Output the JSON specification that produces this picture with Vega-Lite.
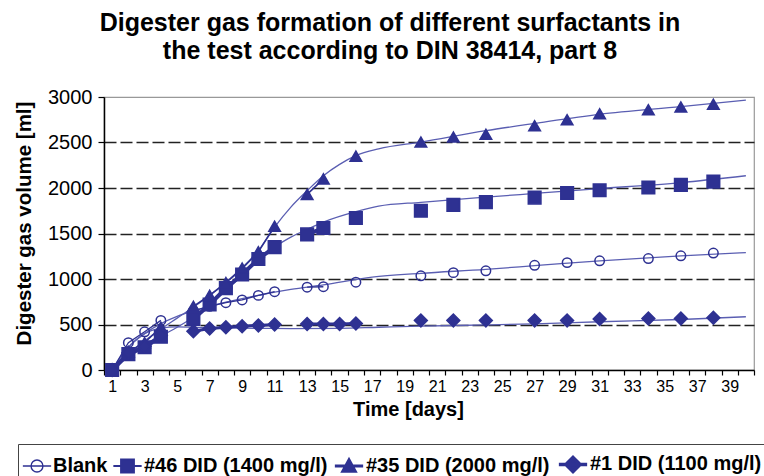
{
  "$schema": "https://vega.github.io/schema/vega-lite/v6.json",
  "autosize": {"type": "none"},
  "width": 650,
  "height": 273,
  "padding": {"left": 104, "top": 97, "right": 10, "bottom": 106},
  "background": "white",
  "title": {
    "text": ["Digester gas formation of different surfactants in", "the test according to DIN 38414, part 8"],
    "font": "Liberation Sans",
    "fontSize": 25,
    "fontWeight": "bold",
    "color": "black",
    "anchor": "middle",
    "dx": -39,
    "offset": -2,
    "lineHeight": 28,
    "baseline": "bottom"
  },
  "config": {
    "view": {"stroke": "#999999", "strokeWidth": 1.2},
    "font": "Liberation Sans",
    "legend": {
      "title": null,
      "orient": "none",
      "direction": "horizontal",
      "legendX": -86,
      "legendY": 347,
      "padding": 4,
      "fillColor": "white",
      "strokeColor": "#444444",
      "symbolSize": 800,
      "labelFont": "Liberation Sans",
      "labelFontSize": 20,
      "labelFontWeight": "bold",
      "labelColor": "black",
      "labelOffset": 1,
      "columnPadding": 1,
      "labelLimit": 400
    }
  },
  "datasets": {
    "pts": [
      {"s": "Blank", "day": 1, "v": 0, "seg": "a"},
      {"s": "Blank", "day": 2, "v": 300, "seg": "a"},
      {"s": "Blank", "day": 3, "v": 420, "seg": "a"},
      {"s": "Blank", "day": 4, "v": 545, "seg": "a"},
      {"s": "Blank", "day": 6, "v": 650, "seg": "b"},
      {"s": "Blank", "day": 7, "v": 700, "seg": "b"},
      {"s": "Blank", "day": 8, "v": 740, "seg": "b"},
      {"s": "Blank", "day": 9, "v": 770, "seg": "b"},
      {"s": "Blank", "day": 10, "v": 820, "seg": "b"},
      {"s": "Blank", "day": 11, "v": 860, "seg": "b"},
      {"s": "Blank", "day": 13, "v": 910, "seg": "c"},
      {"s": "Blank", "day": 14, "v": 915, "seg": "c"},
      {"s": "Blank", "day": 16, "v": 965, "seg": "d"},
      {"s": "Blank", "day": 20, "v": 1035, "seg": "e"},
      {"s": "Blank", "day": 22, "v": 1070, "seg": "f"},
      {"s": "Blank", "day": 24, "v": 1090, "seg": "g"},
      {"s": "Blank", "day": 27, "v": 1150, "seg": "h"},
      {"s": "Blank", "day": 29, "v": 1180, "seg": "i"},
      {"s": "Blank", "day": 31, "v": 1200, "seg": "j"},
      {"s": "Blank", "day": 34, "v": 1225, "seg": "k"},
      {"s": "Blank", "day": 36, "v": 1255, "seg": "l"},
      {"s": "Blank", "day": 38, "v": 1285, "seg": "m"},

      {"s": "#46 DID (1400 mg/l)", "day": 1, "v": 0, "seg": "a"},
      {"s": "#46 DID (1400 mg/l)", "day": 2, "v": 175, "seg": "a"},
      {"s": "#46 DID (1400 mg/l)", "day": 3, "v": 250, "seg": "a"},
      {"s": "#46 DID (1400 mg/l)", "day": 4, "v": 365, "seg": "a"},
      {"s": "#46 DID (1400 mg/l)", "day": 6, "v": 560, "seg": "b"},
      {"s": "#46 DID (1400 mg/l)", "day": 7, "v": 720, "seg": "b"},
      {"s": "#46 DID (1400 mg/l)", "day": 8, "v": 900, "seg": "b"},
      {"s": "#46 DID (1400 mg/l)", "day": 9, "v": 1050, "seg": "b"},
      {"s": "#46 DID (1400 mg/l)", "day": 10, "v": 1220, "seg": "b"},
      {"s": "#46 DID (1400 mg/l)", "day": 11, "v": 1350, "seg": "b"},
      {"s": "#46 DID (1400 mg/l)", "day": 13, "v": 1490, "seg": "c"},
      {"s": "#46 DID (1400 mg/l)", "day": 14, "v": 1560, "seg": "c"},
      {"s": "#46 DID (1400 mg/l)", "day": 16, "v": 1670, "seg": "d"},
      {"s": "#46 DID (1400 mg/l)", "day": 20, "v": 1750, "seg": "e"},
      {"s": "#46 DID (1400 mg/l)", "day": 22, "v": 1815, "seg": "f"},
      {"s": "#46 DID (1400 mg/l)", "day": 24, "v": 1845, "seg": "g"},
      {"s": "#46 DID (1400 mg/l)", "day": 27, "v": 1895, "seg": "h"},
      {"s": "#46 DID (1400 mg/l)", "day": 29, "v": 1945, "seg": "i"},
      {"s": "#46 DID (1400 mg/l)", "day": 31, "v": 1975, "seg": "j"},
      {"s": "#46 DID (1400 mg/l)", "day": 34, "v": 2005, "seg": "k"},
      {"s": "#46 DID (1400 mg/l)", "day": 36, "v": 2035, "seg": "l"},
      {"s": "#46 DID (1400 mg/l)", "day": 38, "v": 2070, "seg": "m"},

      {"s": "#35 DID (2000 mg/l)", "day": 1, "v": 0, "seg": "a"},
      {"s": "#35 DID (2000 mg/l)", "day": 2, "v": 200, "seg": "a"},
      {"s": "#35 DID (2000 mg/l)", "day": 3, "v": 300, "seg": "a"},
      {"s": "#35 DID (2000 mg/l)", "day": 4, "v": 470, "seg": "a"},
      {"s": "#35 DID (2000 mg/l)", "day": 6, "v": 700, "seg": "b"},
      {"s": "#35 DID (2000 mg/l)", "day": 7, "v": 820, "seg": "b"},
      {"s": "#35 DID (2000 mg/l)", "day": 8, "v": 960, "seg": "b"},
      {"s": "#35 DID (2000 mg/l)", "day": 9, "v": 1120, "seg": "b"},
      {"s": "#35 DID (2000 mg/l)", "day": 10, "v": 1300, "seg": "b"},
      {"s": "#35 DID (2000 mg/l)", "day": 11, "v": 1580, "seg": "b"},
      {"s": "#35 DID (2000 mg/l)", "day": 13, "v": 1930, "seg": "c"},
      {"s": "#35 DID (2000 mg/l)", "day": 14, "v": 2100, "seg": "c"},
      {"s": "#35 DID (2000 mg/l)", "day": 16, "v": 2350, "seg": "d"},
      {"s": "#35 DID (2000 mg/l)", "day": 20, "v": 2505, "seg": "e"},
      {"s": "#35 DID (2000 mg/l)", "day": 22, "v": 2560, "seg": "f"},
      {"s": "#35 DID (2000 mg/l)", "day": 24, "v": 2590, "seg": "g"},
      {"s": "#35 DID (2000 mg/l)", "day": 27, "v": 2685, "seg": "h"},
      {"s": "#35 DID (2000 mg/l)", "day": 29, "v": 2750, "seg": "i"},
      {"s": "#35 DID (2000 mg/l)", "day": 31, "v": 2815, "seg": "j"},
      {"s": "#35 DID (2000 mg/l)", "day": 34, "v": 2860, "seg": "k"},
      {"s": "#35 DID (2000 mg/l)", "day": 36, "v": 2890, "seg": "l"},
      {"s": "#35 DID (2000 mg/l)", "day": 38, "v": 2920, "seg": "m"},

      {"s": "#1 DID (1100 mg/l)", "day": 1, "v": 0, "seg": "a"},
      {"s": "#1 DID (1100 mg/l)", "day": 2, "v": 190, "seg": "a"},
      {"s": "#1 DID (1100 mg/l)", "day": 3, "v": 260, "seg": "a"},
      {"s": "#1 DID (1100 mg/l)", "day": 4, "v": 380, "seg": "a"},
      {"s": "#1 DID (1100 mg/l)", "day": 6, "v": 425, "seg": "b"},
      {"s": "#1 DID (1100 mg/l)", "day": 7, "v": 455, "seg": "b"},
      {"s": "#1 DID (1100 mg/l)", "day": 8, "v": 470, "seg": "b"},
      {"s": "#1 DID (1100 mg/l)", "day": 9, "v": 480, "seg": "b"},
      {"s": "#1 DID (1100 mg/l)", "day": 10, "v": 490, "seg": "b"},
      {"s": "#1 DID (1100 mg/l)", "day": 11, "v": 500, "seg": "b"},
      {"s": "#1 DID (1100 mg/l)", "day": 13, "v": 505, "seg": "c"},
      {"s": "#1 DID (1100 mg/l)", "day": 14, "v": 505, "seg": "c"},
      {"s": "#1 DID (1100 mg/l)", "day": 15, "v": 505, "seg": "c"},
      {"s": "#1 DID (1100 mg/l)", "day": 16, "v": 510, "seg": "c"},
      {"s": "#1 DID (1100 mg/l)", "day": 20, "v": 545, "seg": "e"},
      {"s": "#1 DID (1100 mg/l)", "day": 22, "v": 545, "seg": "f"},
      {"s": "#1 DID (1100 mg/l)", "day": 24, "v": 545, "seg": "g"},
      {"s": "#1 DID (1100 mg/l)", "day": 27, "v": 545, "seg": "h"},
      {"s": "#1 DID (1100 mg/l)", "day": 29, "v": 545, "seg": "i"},
      {"s": "#1 DID (1100 mg/l)", "day": 31, "v": 560, "seg": "j"},
      {"s": "#1 DID (1100 mg/l)", "day": 34, "v": 565, "seg": "k"},
      {"s": "#1 DID (1100 mg/l)", "day": 36, "v": 565, "seg": "l"},
      {"s": "#1 DID (1100 mg/l)", "day": 38, "v": 575, "seg": "m"}
    ],
    "curves": [
      {"s": "Blank", "day": 1, "v": 0},
      {"s": "Blank", "day": 2, "v": 250},
      {"s": "Blank", "day": 3, "v": 400},
      {"s": "Blank", "day": 4, "v": 510},
      {"s": "Blank", "day": 5, "v": 590},
      {"s": "Blank", "day": 6, "v": 650},
      {"s": "Blank", "day": 7, "v": 700},
      {"s": "Blank", "day": 8, "v": 745},
      {"s": "Blank", "day": 9, "v": 785},
      {"s": "Blank", "day": 10, "v": 820},
      {"s": "Blank", "day": 11, "v": 855},
      {"s": "Blank", "day": 12, "v": 885},
      {"s": "Blank", "day": 14, "v": 935},
      {"s": "Blank", "day": 17, "v": 1020},
      {"s": "Blank", "day": 20, "v": 1062},
      {"s": "Blank", "day": 24, "v": 1106},
      {"s": "Blank", "day": 27, "v": 1146},
      {"s": "Blank", "day": 31, "v": 1200},
      {"s": "Blank", "day": 36, "v": 1255},
      {"s": "Blank", "day": 40, "v": 1290},

      {"s": "#46 DID (1400 mg/l)", "day": 1, "v": 0},
      {"s": "#46 DID (1400 mg/l)", "day": 2, "v": 150},
      {"s": "#46 DID (1400 mg/l)", "day": 3, "v": 260},
      {"s": "#46 DID (1400 mg/l)", "day": 4, "v": 370},
      {"s": "#46 DID (1400 mg/l)", "day": 5, "v": 470},
      {"s": "#46 DID (1400 mg/l)", "day": 6, "v": 580},
      {"s": "#46 DID (1400 mg/l)", "day": 7, "v": 710},
      {"s": "#46 DID (1400 mg/l)", "day": 8, "v": 870},
      {"s": "#46 DID (1400 mg/l)", "day": 9, "v": 1040},
      {"s": "#46 DID (1400 mg/l)", "day": 10, "v": 1200},
      {"s": "#46 DID (1400 mg/l)", "day": 11, "v": 1350},
      {"s": "#46 DID (1400 mg/l)", "day": 12, "v": 1460},
      {"s": "#46 DID (1400 mg/l)", "day": 13, "v": 1545},
      {"s": "#46 DID (1400 mg/l)", "day": 14, "v": 1625},
      {"s": "#46 DID (1400 mg/l)", "day": 16, "v": 1740},
      {"s": "#46 DID (1400 mg/l)", "day": 17.4, "v": 1800},
      {"s": "#46 DID (1400 mg/l)", "day": 20, "v": 1843},
      {"s": "#46 DID (1400 mg/l)", "day": 24, "v": 1900},
      {"s": "#46 DID (1400 mg/l)", "day": 27, "v": 1940},
      {"s": "#46 DID (1400 mg/l)", "day": 31, "v": 1993},
      {"s": "#46 DID (1400 mg/l)", "day": 36, "v": 2060},
      {"s": "#46 DID (1400 mg/l)", "day": 40, "v": 2135},

      {"s": "#35 DID (2000 mg/l)", "day": 1, "v": 0},
      {"s": "#35 DID (2000 mg/l)", "day": 2, "v": 180},
      {"s": "#35 DID (2000 mg/l)", "day": 3, "v": 320},
      {"s": "#35 DID (2000 mg/l)", "day": 4, "v": 450},
      {"s": "#35 DID (2000 mg/l)", "day": 5, "v": 570},
      {"s": "#35 DID (2000 mg/l)", "day": 6, "v": 690},
      {"s": "#35 DID (2000 mg/l)", "day": 7, "v": 820},
      {"s": "#35 DID (2000 mg/l)", "day": 8, "v": 960},
      {"s": "#35 DID (2000 mg/l)", "day": 9, "v": 1110},
      {"s": "#35 DID (2000 mg/l)", "day": 10, "v": 1310},
      {"s": "#35 DID (2000 mg/l)", "day": 11, "v": 1570},
      {"s": "#35 DID (2000 mg/l)", "day": 12, "v": 1790},
      {"s": "#35 DID (2000 mg/l)", "day": 13, "v": 1970},
      {"s": "#35 DID (2000 mg/l)", "day": 14, "v": 2135},
      {"s": "#35 DID (2000 mg/l)", "day": 15, "v": 2260},
      {"s": "#35 DID (2000 mg/l)", "day": 16, "v": 2355},
      {"s": "#35 DID (2000 mg/l)", "day": 17.4, "v": 2430},
      {"s": "#35 DID (2000 mg/l)", "day": 20, "v": 2505},
      {"s": "#35 DID (2000 mg/l)", "day": 24, "v": 2630},
      {"s": "#35 DID (2000 mg/l)", "day": 27, "v": 2710},
      {"s": "#35 DID (2000 mg/l)", "day": 31, "v": 2810},
      {"s": "#35 DID (2000 mg/l)", "day": 36, "v": 2895},
      {"s": "#35 DID (2000 mg/l)", "day": 40, "v": 2965},

      {"s": "#1 DID (1100 mg/l)", "day": 1, "v": 0},
      {"s": "#1 DID (1100 mg/l)", "day": 2, "v": 250},
      {"s": "#1 DID (1100 mg/l)", "day": 3, "v": 400},
      {"s": "#1 DID (1100 mg/l)", "day": 4, "v": 460},
      {"s": "#1 DID (1100 mg/l)", "day": 5, "v": 475},
      {"s": "#1 DID (1100 mg/l)", "day": 6, "v": 470},
      {"s": "#1 DID (1100 mg/l)", "day": 8, "v": 462},
      {"s": "#1 DID (1100 mg/l)", "day": 10, "v": 458},
      {"s": "#1 DID (1100 mg/l)", "day": 12, "v": 455},
      {"s": "#1 DID (1100 mg/l)", "day": 15, "v": 458},
      {"s": "#1 DID (1100 mg/l)", "day": 17.4, "v": 470},
      {"s": "#1 DID (1100 mg/l)", "day": 20, "v": 482},
      {"s": "#1 DID (1100 mg/l)", "day": 24, "v": 495},
      {"s": "#1 DID (1100 mg/l)", "day": 27, "v": 507},
      {"s": "#1 DID (1100 mg/l)", "day": 31, "v": 530},
      {"s": "#1 DID (1100 mg/l)", "day": 36, "v": 555},
      {"s": "#1 DID (1100 mg/l)", "day": 40, "v": 585}
    ]
  },
  "encoding": {
    "x": {
      "field": "day",
      "type": "quantitative",
      "scale": {"domain": [0.5, 40.5], "nice": false, "zero": false},
      "axis": {
        "title": "Time [days]",
        "titleFont": "Liberation Sans",
        "titleFontSize": 20,
        "titleFontWeight": "bold",
        "titleColor": "black",
        "titlePadding": 5,
        "titleX": 304,
        "values": [0.5,1.5,2.5,3.5,4.5,5.5,6.5,7.5,8.5,9.5,10.5,11.5,12.5,13.5,14.5,15.5,16.5,17.5,18.5,19.5,20.5,21.5,22.5,23.5,24.5,25.5,26.5,27.5,28.5,29.5,30.5,31.5,32.5,33.5,34.5,35.5,36.5,37.5,38.5,39.5,40.5],
        "labelExpr": "(datum.value - 0.5) % 2 == 1 ? format(datum.value - 0.5, 'd') : ''",
        "labelOffset": -8.125,
        "labelOverlap": false,
        "labelFlush": false,
        "labelFont": "Liberation Sans",
        "labelFontSize": 16,
        "labelColor": "black",
        "labelPadding": 3,
        "tickSize": 5,
        "tickColor": "black",
        "tickWidth": 1.2,
        "domainColor": "black",
        "domainWidth": 1.5,
        "grid": false
      }
    },
    "y": {
      "field": "v",
      "type": "quantitative",
      "scale": {"domain": [0, 3000], "nice": false},
      "axis": {
        "title": "Digester gas volume [ml]",
        "titleFont": "Liberation Sans",
        "titleFontSize": 20.5,
        "titleFontWeight": "bold",
        "titleColor": "black",
        "titlePadding": 13,
        "titleY": 126,
        "values": [0, 500, 1000, 1500, 2000, 2500, 3000],
        "format": "d",
        "labelFont": "Liberation Sans",
        "labelFontSize": 20,
        "labelColor": "black",
        "labelPadding": 6,
        "tickSize": 6,
        "tickColor": "black",
        "tickWidth": 1.2,
        "domainColor": "black",
        "domainWidth": 1.5,
        "grid": true,
        "gridColor": "#222222",
        "gridWidth": 1.6,
        "gridDash": [12, 4],
        "gridOpacity": {"condition": {"test": "datum.value == 0 || datum.value == 3000", "value": 0}, "value": 1}
      }
    }
  },
  "layer": [
    {
      "data": {"name": "curves"},
      "mark": {"type": "line", "interpolate": "monotone", "color": "#5a5eb2", "strokeWidth": 1.3},
      "encoding": {"detail": {"field": "s"}}
    },
    {
      "data": {"name": "pts"},
      "mark": {"type": "line", "color": "#2e3192"},
      "encoding": {
        "detail": [{"field": "s"}, {"field": "seg"}],
        "strokeWidth": {
          "condition": [
            {"test": "datum.s === '#46 DID (1400 mg/l)'", "value": 4},
            {"test": "datum.s === '#1 DID (1100 mg/l)'", "value": 3},
            {"test": "datum.s === '#35 DID (2000 mg/l)'", "value": 1.6}
          ],
          "value": 1.3
        }
      }
    },
    {
      "data": {"name": "pts"},
      "mark": {"type": "point", "filled": true, "stroke": "#2e3192", "strokeWidth": 1.5, "opacity": 1},
      "encoding": {
        "shape": {
          "condition": [
            {"test": "datum.s === 'Blank'", "value": "circle"},
            {"test": "datum.s === '#46 DID (1400 mg/l)'", "value": "square"},
            {"test": "datum.s === '#35 DID (2000 mg/l)'", "value": "triangle-up"}
          ],
          "value": "diamond"
        },
        "fill": {
          "condition": {"test": "datum.s === 'Blank'", "value": "transparent"},
          "value": "#2e3192"
        },
        "size": {
          "condition": [
            {"test": "datum.s === 'Blank'", "value": 90},
            {"test": "datum.s === '#46 DID (1400 mg/l)'", "value": 160},
            {"test": "datum.s === '#35 DID (2000 mg/l)'", "value": 135}
          ],
          "value": 165
        }
      }
    },
    {
      "data": {"name": "pts"},
      "transform": [{"filter": "false"}],
      "mark": {"type": "point", "filled": true, "stroke": "#2e3192", "opacity": 1},
      "encoding": {
        "shape": {
          "field": "s",
          "type": "nominal",
          "scale": {
            "domain": ["Blank", "#46 DID (1400 mg/l)", "#35 DID (2000 mg/l)", "#1 DID (1100 mg/l)"],
            "range": [
              "M-1,0L1,0M-0.42,0A0.42,0.42,0,1,1,0.42,0A0.42,0.42,0,1,1,-0.42,0Z",
              "M-1,0L1,0M-0.45,-0.45L0.45,-0.45L0.45,0.45L-0.45,0.45Z",
              "M-1,0L1,0M0,-0.45L0.45,0.38L-0.45,0.38Z",
              "M-1,0L1,0M0,-0.5L0.5,0L0,0.5L-0.5,0Z"
            ]
          }
        },
        "fill": {
          "field": "s",
          "type": "nominal",
          "scale": {
            "domain": ["Blank", "#46 DID (1400 mg/l)", "#35 DID (2000 mg/l)", "#1 DID (1100 mg/l)"],
            "range": ["transparent", "#2e3192", "#2e3192", "#2e3192"]
          }
        },
        "strokeWidth": {
          "field": "s",
          "type": "nominal",
          "scale": {
            "domain": ["Blank", "#46 DID (1400 mg/l)", "#35 DID (2000 mg/l)", "#1 DID (1100 mg/l)"],
            "range": [1.4, 3.5, 1.6, 2.6]
          }
        }
      }
    }
  ]
}
